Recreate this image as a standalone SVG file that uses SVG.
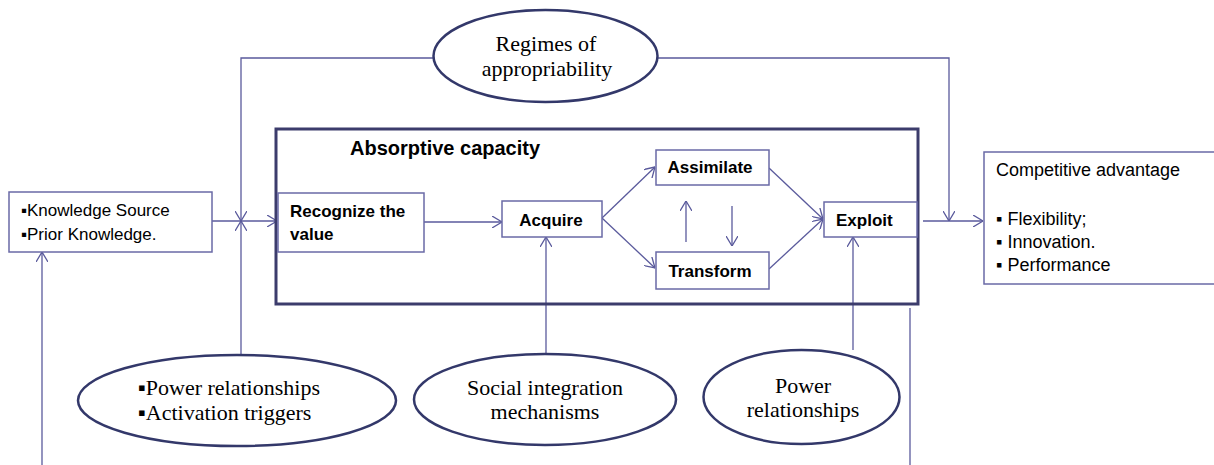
<svg xmlns="http://www.w3.org/2000/svg" width="1214" height="465" viewBox="0 0 1214 465">
<defs>
<style>
.ln{stroke:#5a5a9c;stroke-width:1.3;fill:none}
.bx{stroke:#6a6aa6;stroke-width:1.5;fill:#fff}
.big{stroke:#3c3c6c;stroke-width:3;fill:none}
.el{stroke:#33386a;stroke-width:2.5;fill:#fff}
.sans{font-family:"Liberation Sans",Arial,sans-serif;fill:#000}
.b{font-weight:bold}
.serif{font-family:"Liberation Serif","Times New Roman",serif;fill:#000;font-size:22px}
</style>
<marker id="ah" viewBox="0 0 10 12" refX="10" refY="6" markerWidth="10" markerHeight="12" markerUnits="userSpaceOnUse" orient="auto">
<path d="M0,0 L10,6 L0,12" fill="none" stroke="#5a5a9c" stroke-width="1.3"/>
</marker>
</defs>
<rect width="1214" height="465" fill="#fff"/>
<g id="connectors">
<line class="ln" x1="212" y1="221" x2="277" y2="221" marker-end="url(#ah)"/>
<polyline class="ln" points="434,58 241,58 241,221" marker-end="url(#ah)"/>
<line class="ln" x1="241" y1="355" x2="241" y2="221" marker-end="url(#ah)"/>
<polyline class="ln" points="657,58 949,58 949,221" marker-end="url(#ah)"/>
<line class="ln" x1="424" y1="222" x2="502" y2="222" marker-end="url(#ah)"/>
<line class="ln" x1="602" y1="218" x2="655" y2="167" marker-end="url(#ah)"/>
<line class="ln" x1="602" y1="218" x2="655" y2="268" marker-end="url(#ah)"/>
<line class="ln" x1="686" y1="242" x2="686" y2="201" marker-end="url(#ah)"/>
<line class="ln" x1="732" y1="206" x2="732" y2="246" marker-end="url(#ah)"/>
<line class="ln" x1="769" y1="168" x2="823" y2="219" marker-end="url(#ah)"/>
<line class="ln" x1="769" y1="269" x2="823" y2="219" marker-end="url(#ah)"/>
<line class="ln" x1="546" y1="354" x2="546" y2="237" marker-end="url(#ah)"/>
<line class="ln" x1="853" y1="350" x2="853" y2="237" marker-end="url(#ah)"/>
<line class="ln" x1="923" y1="221" x2="983" y2="221" marker-end="url(#ah)"/>
<line class="ln" x1="910" y1="308" x2="910" y2="465"/>
<line class="ln" x1="42" y1="465" x2="42" y2="252" marker-end="url(#ah)"/>
</g>
<g id="absorptive-capacity">
<rect class="big" x="276" y="129" width="642" height="175"/>
<text class="sans b" x="350" y="155" font-size="20">Absorptive capacity</text>
</g>
<g id="knowledge">
<rect class="bx" x="9" y="192" width="203" height="60"/>
<text class="sans" x="21" y="216" font-size="17">▪Knowledge Source</text>
<text class="sans" x="21" y="240" font-size="17">▪Prior Knowledge.</text>
</g>
<g id="recognize">
<rect class="bx" x="278" y="193" width="146" height="59"/>
<text class="sans b" x="290" y="217" font-size="17">Recognize the</text>
<text class="sans b" x="290" y="240" font-size="17">value</text>
</g>
<g id="acquire">
<rect class="bx" x="502" y="201" width="100" height="36"/>
<text class="sans b" x="551" y="226" font-size="17" text-anchor="middle">Acquire</text>
</g>
<g id="assimilate">
<rect class="bx" x="656" y="150" width="113" height="35"/>
<text class="sans b" x="710" y="173" font-size="17" text-anchor="middle">Assimilate</text>
</g>
<g id="transform">
<rect class="bx" x="656" y="252" width="113" height="37"/>
<text class="sans b" x="710" y="277" font-size="17" text-anchor="middle">Transform</text>
</g>
<g id="exploit">
<rect class="bx" x="824" y="202" width="93" height="35"/>
<text class="sans b" x="836" y="226" font-size="17">Exploit</text>
</g>
<g id="competitive-advantage">
<rect class="bx" x="984" y="152" width="240" height="132"/>
<text class="sans" x="996" y="176" font-size="18">Competitive advantage</text>
<text class="sans" x="996" y="225" font-size="18">▪ Flexibility;</text>
<text class="sans" x="996" y="248" font-size="18">▪ Innovation.</text>
<text class="sans" x="996" y="271" font-size="18">▪ Performance</text>
</g>
<g id="regimes">
<ellipse class="el" cx="545.5" cy="56" rx="112" ry="46"/>
<text class="serif" x="546" y="51" text-anchor="middle">Regimes of</text>
<text class="serif" x="547" y="76" text-anchor="middle">appropriability</text>
</g>
<g id="power-activation">
<ellipse class="el" cx="237" cy="400.5" rx="159" ry="45.5"/>
<text class="serif" x="138" y="395">▪Power relationships</text>
<text class="serif" x="138" y="420">▪Activation triggers</text>
</g>
<g id="social-integration">
<ellipse class="el" cx="545" cy="399.5" rx="131" ry="45.5"/>
<text class="serif" x="545" y="395" text-anchor="middle">Social integration</text>
<text class="serif" x="545" y="419" text-anchor="middle">mechanisms</text>
</g>
<g id="power-relationships">
<ellipse class="el" cx="801.5" cy="397" rx="98" ry="47"/>
<text class="serif" x="803" y="393" text-anchor="middle">Power</text>
<text class="serif" x="803" y="417" text-anchor="middle">relationships</text>
</g>
</svg>
